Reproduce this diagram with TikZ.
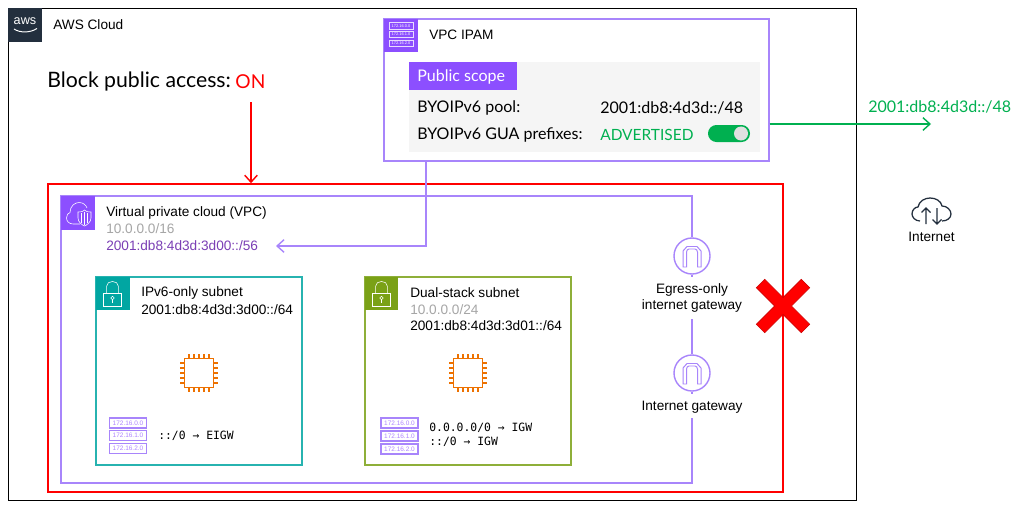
\documentclass[tikz,border=0pt]{standalone}
\usepackage{fontspec}
\setmainfont{Liberation Sans}
\newfontfamily\aptosfont{Lato}
\setmonofont{DejaVu Sans Mono}
\usetikzlibrary{positioning,fit,arrows.meta}
\definecolor{awsdark}{HTML}{232F3E}
\definecolor{awspurple}{HTML}{8C4FFF}
\definecolor{vpcline}{HTML}{A885FB}
\definecolor{vpcprefix}{HTML}{7B3FB5}
\definecolor{tealsub}{HTML}{01A6A2}
\definecolor{greensub}{HTML}{7AA116}
\definecolor{chiporange}{HTML}{ED7100}
\definecolor{advgreen}{HTML}{00B050}
\tikzset{
	label/.style={inner sep=0,anchor=west,font=\fontsize{9.7}{11}\selectfont},
	aptos/.style={inner sep=0,anchor=west,font=\aptosfont\fontsize{11.4}{13}\selectfont},
	bigaptos/.style={inner sep=0,anchor=west,font=\aptosfont\fontsize{15.1}{17}\selectfont},
	route/.style={inner sep=0,anchor=west,font=\ttfamily\fontsize{8.1}{10}\selectfont},
	box/.style={draw,inner sep=0,line width=0.8pt},
	iconbox/.style={fill,inner sep=0},
	routerow/.style={draw=vpcline,line width=1.1pt,text=awspurple!70,inner sep=0,minimum width=0.92cm,minimum height=0.26cm,font=\fontsize{4.6}{5}\selectfont},
	ipamrow/.style={draw=white!80!awspurple,line width=0.5pt,text=white,inner sep=0,minimum width=0.6cm,minimum height=0.165cm,font=\fontsize{2.8}{3}\selectfont},
	gateway/.style={circle,draw=vpcline,line width=1pt,inner sep=0,minimum size=0.9cm},
	barbed/.style={line width=1pt,-{Straight Barb[length=5pt,width=9pt]}},
	vpcwire/.style={vpcline,line width=1.1pt},
	cpuicon/.pic={
		\draw[chiporange,line width=1pt] (-14.3,-14.3) rectangle (14.3,14.3);
		\foreach \p in {-10,-5,0,5,10} {
			\draw[chiporange,line width=1pt] (\p,-14.3) -- (\p,-19.3);
			\draw[chiporange,line width=1pt] (\p,14.3) -- (\p,19.3);
			\draw[chiporange,line width=1pt] (-14.3,\p) -- (-19.3,\p);
			\draw[chiporange,line width=1pt] (14.3,\p) -- (19.3,\p);
		}
	},
	lockicon/.pic={
		\draw[white,line width=0.4pt] (7.3,16.3) rectangle (25.7,29);
		\draw[white,line width=0.4pt] (10.7,16.3) -- (10.7,9) .. controls (10.7,3) and (22.3,3) .. (22.3,9) -- (22.3,16.3);
		\draw[white,line width=0.4pt] (16.5,21) circle (1.7);
		\draw[white,line width=0.4pt] (16.5,22.7) -- (16.5,26);
	},
	archicon/.pic={
		\draw[vpcline,line width=0.7pt] (-9,11) -- (-9,-5) -- (-5,-9.5) -- (5,-9.5) -- (9,-5) -- (9,11) -- (5.5,11) -- (5.5,-4) .. controls (5.5,-6) and (4,-7) .. (3,-7) -- (-3,-7) .. controls (-4,-7) and (-5.5,-6) .. (-5.5,-4) -- (-5.5,11) -- cycle;
	},
}
\begin{document}
\begin{tikzpicture}[x=0.025cm,y=-0.025cm]
	\useasboundingbox (0,0) rectangle (1024,512);
	\fill[white] (0,0) rectangle (1024,512);

	% outer frame
	\node[box,line width=1.1pt,fit={(8.5,8.5)(856.5,500.5)}] (cloud) {};
	\node[iconbox,fill=awsdark,fit={(8,8)(42,42)}] (awsicon) {};
	\node[inner sep=0,text=white,font=\fontsize{9}{10}\selectfont] (awstext) at (25,21.5) {aws};
	\draw[white,line width=0.7pt] (14,29) .. controls (20,33) and (30,33) .. (37,28.5);
	\node[label] (cloudname) at (53,25) {AWS Cloud};

	\node[bigaptos] (block) at (47,82) {Block public access:};
	\node[bigaptos,font=\aptosfont\fontsize{13.6}{15}\selectfont,text=red,right=0.1cm of block] (on) {ON};

	% red box
	\node[box,draw=red,line width=1.1pt,fit={(48,184)(783,492)}] (redbox) {};
	\coordinate (blockend) at (251,102);
	\draw[red,barbed] (blockend) -- (blockend |- redbox.north);

	% vpc
	\node[gateway] (egw) at (692,256) {};
	\pic at (692,256) {archicon};
	\node[label,anchor=center,align=center] (egwname) at (692,298) {Egress-only\\internet gateway};
	\node[gateway] (igw) at (692,373) {};
	\pic at (692,373) {archicon};
	\node[label,anchor=center] (igwname) at (692,407) {Internet gateway};
	\coordinate (vpctr) at (692,196);
	\coordinate (vpctl) at (61,196);
	\coordinate (vpcbl) at (61,483);
	\coordinate (vpcbr) at (692,483);
	\coordinate (egwstub) at (692,277);
	\coordinate (igwstub) at (692,394);
	\coordinate (igwwire) at (692,319);
	\coordinate (vpcwireend) at (692,418);
	\draw[vpcwire] (egw) -- (vpctr) -- (vpctl) -- (vpcbl) -- (vpcbr) -- (vpcwireend);
	\draw[vpcwire] (egw.south) -- (egwstub);
	\draw[vpcwire] (igwwire) -- (igw.north);
	\draw[vpcwire] (igw.south) -- (igwstub);
	\node[iconbox,fill=awspurple,fit={(61,196)(95,230)}] (vpcicon) {};
	\draw[white,line width=0.4pt] (80,224) -- (73,224) .. controls (69,224) and (66.5,221) .. (66.5,218) .. controls (66.5,215) and (68,213) .. (70,212.5) .. controls (70,206) and (75,202.5) .. (79,202.5) .. controls (83,202.5) and (86,205) .. (87,208);
	\draw[white,line width=0.4pt] (78,212) .. controls (82,212) and (84,211) .. (84.5,210) .. controls (85,211) and (87,212) .. (91,212) -- (91,218) .. controls (91,222) and (87,225) .. (84.5,226) .. controls (82,225) and (78,222) .. (78,218) -- cycle;
	\draw[white,line width=0.3pt] (81.5,213) -- (81.5,222.5) (84.5,212) -- (84.5,225) (87.5,213) -- (87.5,222.5);
	\node[label] (vpcname) at (106,213) {Virtual private cloud (VPC)};
	\node[label,text=black!35] (vpcfour) at (106,229) {10.0.0.0/16};
	\node[label,text=vpcprefix] (vpcsix) at (106,246) {2001:db8:4d3d:3d00::/56};

	% ipv6 subnet
	\node[box,draw=tealsub!85,fit={(96,277)(302,465)}] (sixsub) {};
	\node[iconbox,fill=tealsub,fit={(96,277)(130,310)}] (sixicon) {};
	\pic at (96,277) {lockicon};
	\node[label] (sixname) at (141,293) {IPv6-only subnet};
	\node[label] (sixprefix) at (141,310) {2001:db8:4d3d:3d00::/64};
	\pic at (199,373) {cpuicon};
	\node[routerow] (sixrta) at (128,423) {172.16.0.0};
	\node[routerow] (sixrtb) at (128,435.5) {172.16.1.0};
	\node[routerow] (sixrtc) at (128,448.5) {172.16.2.0};
	\node[route] (sixroute) at (158,436) {::/0 → EIGW};

	% dual stack subnet
	\node[box,draw=greensub!85,fit={(365,277)(571,465)}] (dualsub) {};
	\node[iconbox,fill=greensub,fit={(365,277)(398,310)}] (dualicon) {};
	\pic at (365,277) {lockicon};
	\node[label] (dualname) at (410,293) {Dual-stack subnet};
	\node[label,text=black!35] (dualfour) at (410,310) {10.0.0.0/24};
	\node[label] (dualprefix) at (410,326) {2001:db8:4d3d:3d01::/64};
	\pic at (468,373) {cpuicon};
	\node[routerow] (dualrta) at (399.5,423) {172.16.0.0};
	\node[routerow] (dualrtb) at (399.5,436) {172.16.1.0};
	\node[routerow] (dualrtc) at (399.5,449) {172.16.2.0};
	\node[route] (dualroutea) at (429,428) {0.0.0.0/0 → IGW};
	\node[route] (dualrouteb) at (429,442) {::/0 → IGW};

	% ipam
	\node[box,draw=vpcline,line width=1pt,fill=white,fit={(384,19)(769,161)}] (ipam) {};
	\node[iconbox,fill=awspurple,fit={(384,19)(418,52)}] (ipamicon) {};
	\node[ipamrow] (ipamrta) at (401,26) {172.16.0.0};
	\node[ipamrow] (ipamrtb) at (401,34.5) {172.16.1.0};
	\node[ipamrow] (ipamrtc) at (401,43.5) {172.16.2.0};
	\node[label] (ipamname) at (429,35) {VPC IPAM};
	\node[inner sep=0,fill=black!4,fit={(409,62)(760,152)}] (panel) {};
	\node[inner sep=0,fill=awspurple,fit={(409,62)(517,90)}] (scopebox) {};
	\node[aptos,text=white] (scope) at (417,76.5) {Public scope};
	\node[aptos] (poolname) at (417,108) {BYOIPv6 pool:};
	\node[aptos] (poolvalue) at (600,108) {2001:db8:4d3d::/48};
	\node[aptos] (guaname) at (417,135) {BYOIPv6 GUA prefixes:};
	\node[aptos,text=advgreen,font=\aptosfont\fontsize{11}{13}\selectfont] (guavalue) at (600,135) {ADVERTISED};
	\node[inner sep=0,fill=advgreen,rounded corners=0.21cm,fit={(708,125)(750,142)}] (toggle) {};
	\node[circle,inner sep=0,fill=black!12,minimum size=0.35cm] (knob) at (741,133.5) {};

	% connectors out of ipam
	\coordinate (ipamdrop) at (426,161);
	\coordinate (vpcturn) at (426,246);
	\coordinate (vpctip) at (276,246);
	\draw[vpcline,barbed] (ipamdrop) -- (vpcturn) -- (vpctip);
	\coordinate (greentip) at (931,124);
	\draw[advgreen,barbed] (ipam.east |- greentip) -- (greentip);
	\node[aptos,text=advgreen] (netprefix) at (868,107) {2001:db8:4d3d::/48};

	% internet
	\draw[awsdark,line width=0.9pt] (920,221) .. controls (915,221) and (912,217) .. (912,214) .. controls (912,210) and (915,207) .. (918,207) .. controls (919,201) and (925,198) .. (930,198) .. controls (936,198) and (941,201) .. (942,206) .. controls (947,206) and (951,210) .. (951,214) .. controls (951,218) and (947,221) .. (942,221);
	\draw[awsdark,line width=0.9pt] (926,224) -- (926,208) (921.5,212.5) -- (926,208) -- (930.5,212.5);
	\draw[awsdark,line width=0.9pt] (937,208) -- (937,224) (932.5,219.5) -- (937,224) -- (941.5,219.5);
	\node[label,anchor=center] (internet) at (931.5,237) {Internet};

	% red cross
	\draw[fill=red,draw=red!80!black,line width=0.4pt] (809.7,287.7) -- (801.3,279.3) -- (783,297.6) -- (764.7,279.3) -- (756.3,287.7) -- (774.6,306) -- (756.3,324.3) -- (764.7,332.7) -- (783,314.4) -- (801.3,332.7) -- (809.7,324.3) -- (791.4,306) -- cycle;
\end{tikzpicture}
\end{document}
